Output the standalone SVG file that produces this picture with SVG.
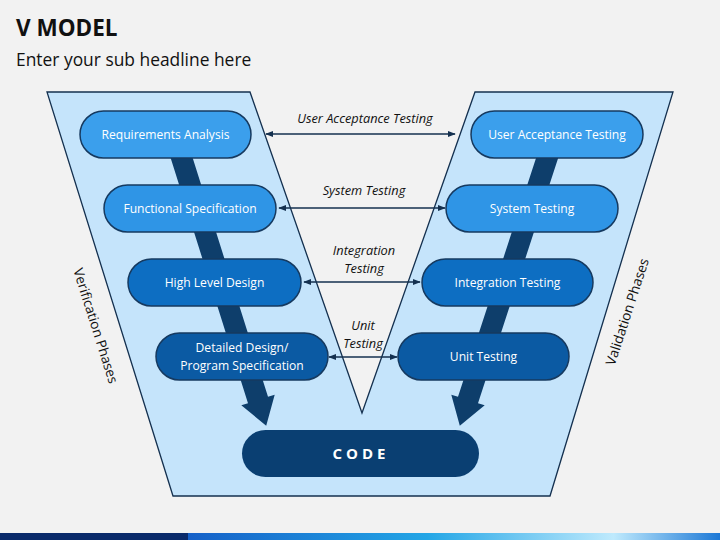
<svg xmlns="http://www.w3.org/2000/svg" width="720" height="540" viewBox="0 0 720 540">
<defs>
<style>
.node{stroke:#163a60;stroke-width:1.5}
.n1{fill:#3b9fec}.n2{fill:#2f95e6}.n3{fill:#0d6ec2}.n4{fill:#0b5aa3}.code{fill:#0a3f72}
.nt{font-family:"Open Sans","Liberation Sans",sans-serif;font-size:12.1px;fill:#ffffff;text-anchor:middle}
.lbl{font-family:"Open Sans","Liberation Sans",sans-serif;font-size:12.8px;font-style:italic;fill:#111;text-anchor:middle}
.conn{stroke:#14304f;stroke-width:1.6;fill:none;marker-start:url(#ah);marker-end:url(#ah)}
.big{fill:#0e3e6b}
.side{font-family:"Open Sans","Liberation Sans",sans-serif;font-size:13.6px;fill:#111;text-anchor:middle}
</style>
<marker id="ah" viewBox="0 0 10 10" refX="9" refY="5" markerWidth="5" markerHeight="5" orient="auto-start-reverse" markerUnits="strokeWidth">
<path d="M0,1 L10,5 L0,9 Z" fill="#14304f"/>
</marker>
<linearGradient id="bar" x1="0" y1="0" x2="1" y2="0">
<stop offset="0" stop-color="#1560c8"/>
<stop offset="0.45" stop-color="#23a6e6"/>
<stop offset="0.8" stop-color="#bfeafd"/>
<stop offset="1" stop-color="#1c78d6"/>
</linearGradient>
</defs>
<rect width="720" height="540" fill="#f2f2f2"/>
<g id="title">
<text x="16" y="36" font-family="Open Sans, Liberation Sans, sans-serif" font-size="22.5" font-weight="bold" fill="#111">V MODEL</text>
<text x="16" y="66" font-family="Open Sans, Liberation Sans, sans-serif" font-size="17.4" fill="#111">Enter your sub headline here</text>
</g>
<g id="vshape">
<polygon points="47,92 250,92 362,413 475,92 673,92 550,496 173,496" fill="#c5e4fb" stroke="#14304f" stroke-width="1.3"/>
</g>
<g id="flow-arrows">
<polygon class="big" points="166,143.2 186,136.8 268,396.8 274.7,394.7 266.2,425.7 241.3,405.3 248,403.2"/>
<polygon class="big" points="543,136.8 563,143.2 478,403.2 484.7,405.3 459.8,425.7 451.3,394.7 458,396.8"/>
</g>
<g id="connectors">
<line class="conn" x1="266" y1="134" x2="455" y2="134"/>
<line class="conn" x1="279" y1="208" x2="445" y2="208"/>
<line class="conn" x1="304" y1="282" x2="420" y2="282"/>
<line class="conn" x1="329" y1="357" x2="397" y2="357"/>
<text class="lbl" x="365" y="123">User Acceptance Testing</text>
<text class="lbl" x="364" y="195">System Testing</text>
<text class="lbl" x="364" y="255">Integration</text>
<text class="lbl" x="364" y="273">Testing</text>
<text class="lbl" x="363" y="330">Unit</text>
<text class="lbl" x="363" y="348">Testing</text>
</g>
<g id="node-req"><rect class="node n1" x="80" y="111" width="171" height="47" rx="23.5"/><text class="nt" x="165.5" y="139">Requirements Analysis</text></g>
<g id="node-func"><rect class="node n2" x="104" y="185" width="172" height="47" rx="23.5"/><text class="nt" x="190" y="213">Functional Specification</text></g>
<g id="node-hld"><rect class="node n3" x="128" y="259" width="173" height="47" rx="23.5"/><text class="nt" x="214.5" y="287">High Level Design</text></g>
<g id="node-dd"><rect class="node n4" x="156" y="333" width="172" height="47" rx="23.5"/><text class="nt" x="242" y="352">Detailed Design/</text><text class="nt" x="242" y="370">Program Specification</text></g>
<g id="node-uat"><rect class="node n1" x="471" y="111" width="172" height="47" rx="23.5"/><text class="nt" x="557" y="139">User Acceptance Testing</text></g>
<g id="node-sys"><rect class="node n2" x="446" y="185" width="172" height="47" rx="23.5"/><text class="nt" x="532" y="213">System Testing</text></g>
<g id="node-int"><rect class="node n3" x="422" y="259" width="171" height="47" rx="23.5"/><text class="nt" x="507.5" y="287">Integration Testing</text></g>
<g id="node-unit"><rect class="node n4" x="398" y="333" width="171" height="47" rx="23.5"/><text class="nt" x="483.5" y="361">Unit Testing</text></g>
<g id="node-code"><rect class="code" x="242" y="430" width="237" height="47" rx="23.5"/><text x="361" y="459" font-family="Open Sans, Liberation Sans, sans-serif" font-size="15" font-weight="bold" letter-spacing="4" fill="#ffffff" text-anchor="middle">CODE</text></g>
<g id="side-labels">
<text class="side" transform="translate(95,326) rotate(72.5)" y="4">Verification Phases</text>
<text class="side" transform="translate(628,312) rotate(-72)" y="4">Validation Phases</text>
</g>
<g id="footer">
<rect x="0" y="533" width="188" height="7" fill="#0a2a6a"/>
<rect x="188" y="533" width="532" height="7" fill="url(#bar)"/>
</g>
</svg>
